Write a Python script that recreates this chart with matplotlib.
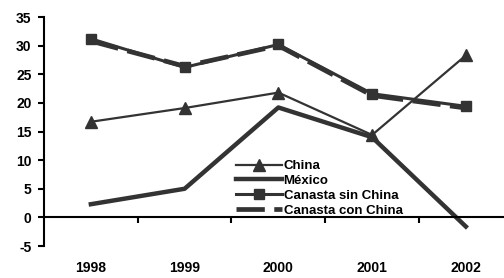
import matplotlib
matplotlib.use("Agg")
import matplotlib.pyplot as plt

plt.rcParams['font.family'] = ['Liberation Sans', 'DejaVu Sans']
plt.rcParams['font.weight'] = 'bold'
plt.rcParams['axes.unicode_minus'] = False

years = ['1998', '1999', '2000', '2001', '2002']
china = [16.7, 19.1, 21.8, 14.4, 28.3]
mexico = [2.3, 5.0, 19.2, 14.0, -1.6]
canasta_sin = [31.2, 26.2, 30.2, 21.6, 19.4]
canasta_con = [30.8, 26.4, 30.0, 21.3, 19.1]

dark = '#333333'
x = list(range(len(years)))

fig = plt.figure(figsize=(5.04, 2.78), dpi=100)
ax = fig.add_axes([0.0873, 0.1151, 0.93, 0.8237])

ax.plot(x, china, color=dark, lw=1.6, marker='^', ms=8, label='China')
ax.plot(x, mexico, color=dark, lw=3.2, label='México')
ax.plot(x, canasta_sin, color=dark, lw=2.2, marker='s', ms=7, label='Canasta sin China')
ax.plot(x, canasta_con, color=dark, lw=3.4, dashes=(6, 2), label='Canasta con China')

ax.set_xlim(-0.5, 4.5)
ax.set_ylim(-5, 35)
ax.set_yticks(range(-5, 36, 5))
ax.tick_params(axis='y', labelsize=10, length=4, width=1.5, pad=5)

for s in ['top', 'right']:
    ax.spines[s].set_visible(False)
ax.spines['left'].set_linewidth(1.5)
ax.spines['bottom'].set_linewidth(1.5)
ax.spines['bottom'].set_position(('data', 0))
ax.set_xticks([i + 0.5 for i in x])
ax.set_xticklabels([])
ax.tick_params(axis='x', length=4, width=1.5, direction='out')

sec = ax.secondary_xaxis(-0.0)
sec.set_xticks(x)
sec.set_xticklabels(years, fontsize=10, fontweight='bold')
sec.tick_params(length=0, pad=11)
sec.spines['bottom'].set_visible(False)

ax.legend(loc='upper left', bbox_to_anchor=(236 / 504, 1 - 160 / 278),
          bbox_transform=fig.transFigure, frameon=False, fontsize=9.5,
          handlelength=3.5, handletextpad=0.1, labelspacing=0.2,
          borderpad=0, borderaxespad=0)

fig.savefig('out.png', dpi=100)
